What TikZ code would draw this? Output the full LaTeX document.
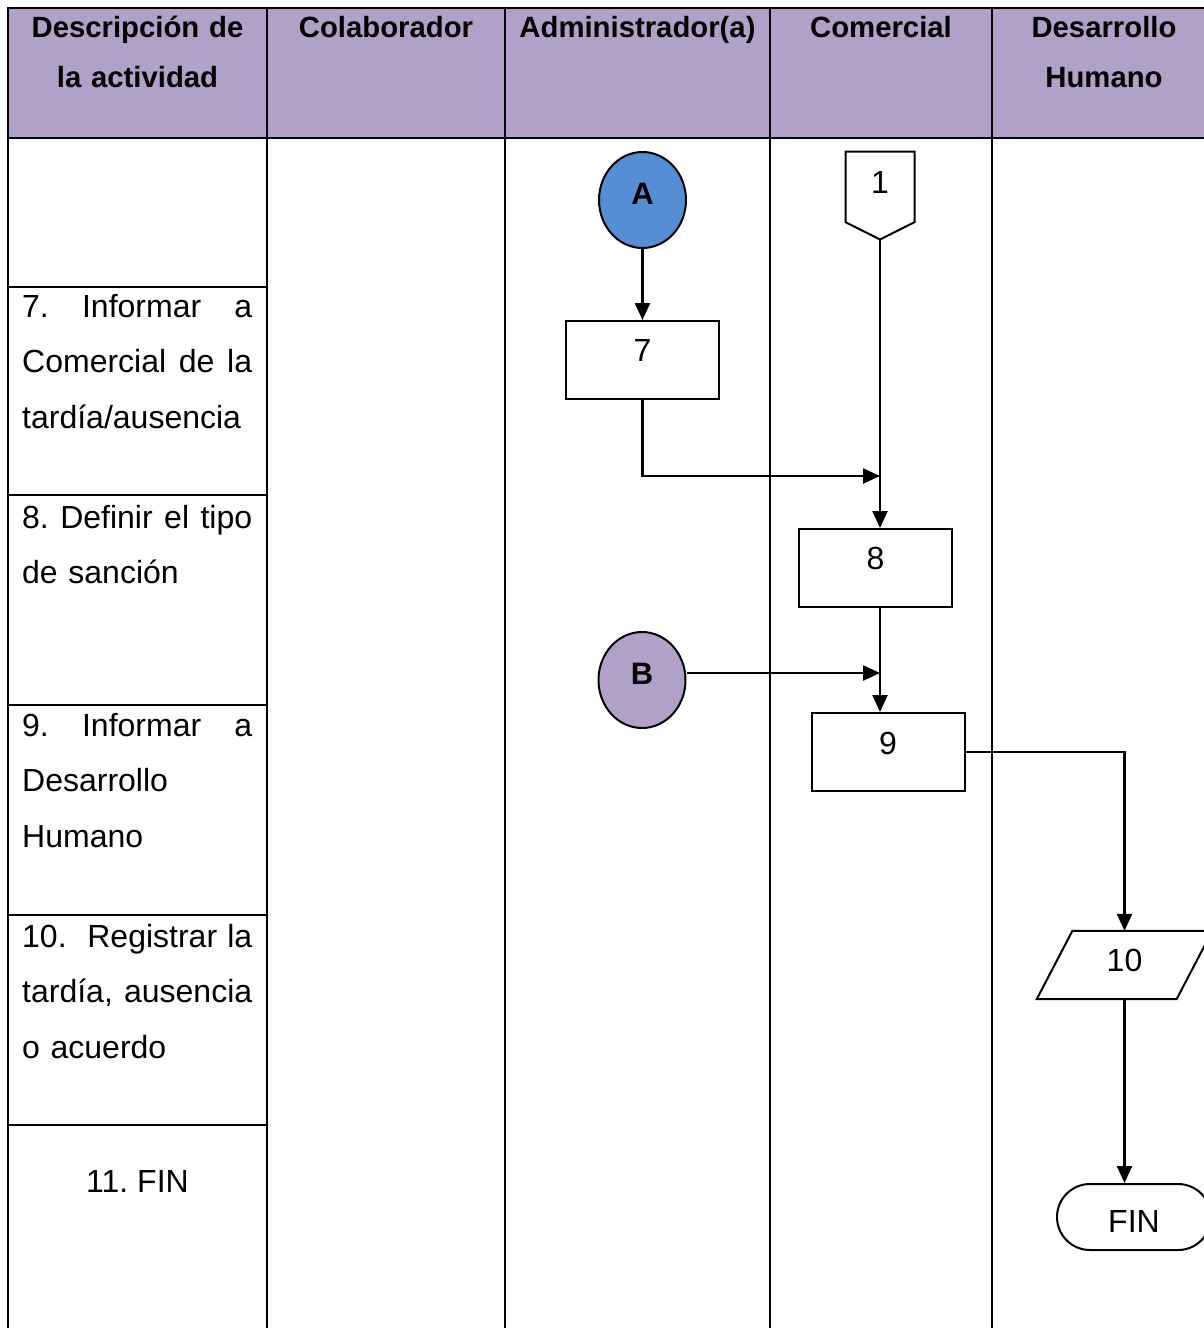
\documentclass[tikz,border=0pt]{standalone}
\usepackage{fontspec}
\setmainfont{Liberation Sans}
\usetikzlibrary{arrows.meta,shapes.geometric}
\definecolor{hdr}{HTML}{B1A0C7}
\definecolor{blueA}{HTML}{558ED5}
\begin{document}
\begin{tikzpicture}[x=1pt,y=-1pt,
  grid/.style={line width=2.6pt,line cap=rect},
  conn/.style={line width=2.4pt,-{Triangle[length=17pt,width=15pt]}},
  shp/.style={line width=2pt},
  box/.style={draw,shp,minimum width=153pt,minimum height=78pt,inner sep=0pt,font=\fontsize{32}{36}\selectfont},
  circ/.style={draw,shp,ellipse,minimum width=87pt,minimum height=96pt,inner sep=0pt,font=\fontsize{31}{34}\selectfont\bfseries},
  hd/.style={font=\fontsize{29.3}{50}\selectfont\bfseries,text width=250pt,align=center,anchor=base,inner sep=0pt},
  desc/.style={font=\fontsize{32}{55.5}\selectfont,text width=230pt,align=left,anchor=base west,inner sep=0pt},
  txtup/.style={text depth=#1}
]
\useasboundingbox (0,0) rectangle (1204,1328);
% header
\fill[hdr] (8,8) rectangle (1215,138);
\draw[grid] (8,8) -- (1215,8);
\draw[grid] (8,138) -- (1215,138);
\foreach \x in {8,267,505,770,992} \draw[grid] (\x,8) -- (\x,1335);
\foreach \y in {287,495,705,915,1125} \draw[grid] (8,\y) -- (267,\y);

\node[hd] (h1) at (137.5,37.5) {Descripción de\\la actividad};
\node[hd] (h2) at (386,37.5) {Colaborador};
\node[hd] (h3) at (637.5,37.5) {Administrador(a)};
\node[hd] (h4) at (881,37.5) {Comercial};
\node[hd] (h5) at (1104,37.5) {Desarrollo\\Humano};

% descriptions
\node[desc] (d7) at (22,317) {7.\hfill Informar\hfill a\\Comercial\hfill de\hfill la\\tardía/ausencia};
\node[desc] (d8) at (22,528) {8.\hfill Definir\hfill el\hfill tipo\\de sanción};
\node[desc] (d9) at (22,736) {9.\hfill Informar\hfill a\\Desarrollo\\Humano};
\node[desc] (d10) at (22,947) {10.\hfill\ Registrar\hfill la\\tardía,\hfill ausencia\\o acuerdo};
\node[font=\fontsize{32}{36}\selectfont,anchor=base,inner sep=0pt] (d11) at (137.5,1192) {11.\ FIN};

% shapes
\node[circ,fill=blueA,txtup=12pt] (A) at (642.5,200) {A};
\node[circ,fill=hdr,txtup=12pt] (B) at (642,680) {B};
\node[box,txtup=20pt] (b7) at (642.5,360) {7};
\node[box,txtup=20pt] (b8) at (875.5,568) {8};
\node[box,txtup=18pt] (b9) at (888,752) {9};

\node[inner sep=0pt,minimum width=68.6pt,minimum height=87.6pt,font=\fontsize{32}{36}\selectfont,txtup=27pt] (off1) at (880,195.5) {1};
\draw[shp,line join=miter] (off1.north west) -- (off1.north east) -- ([yshift=17.3pt]off1.south east) -- (off1.south) -- ([yshift=17.3pt]off1.south west) -- cycle;

\node[inner sep=0pt,minimum width=139.5pt,minimum height=68pt,font=\fontsize{32}{36}\selectfont,txtup=10pt] (p10) at (1124.5,965) {10};
\draw[shp,line join=miter] ([xshift=17.85pt]p10.north west) -- ([xshift=17.85pt]p10.north east) -- ([xshift=-17.85pt]p10.south east) -- ([xshift=-17.85pt]p10.south west) -- cycle;

\node[draw,shp,rounded corners=33pt,minimum width=154pt,minimum height=66pt,inner sep=0pt,font=\fontsize{32}{36}\selectfont,text height=30pt,text depth=0pt] (fin) at (1134,1217) {FIN};

% connectors
\coordinate (j1) at (880,476);
\coordinate (j2) at (880,673);
\draw[conn] (A.south) -- (b7.north);
\draw[conn] (b7.south) |- (j1);
\draw[conn] (off1.south) -- (off1.south |- b8.north);
\draw[conn] (off1.south |- b8.south) -- (off1.south |- b9.north);
\draw[conn] (B.east |- j2) -- (j2);
\draw[conn] (b9.east) -| (p10.north);
\draw[conn] (p10.south) -- (p10.south |- fin.north);
\end{tikzpicture}
\end{document}
